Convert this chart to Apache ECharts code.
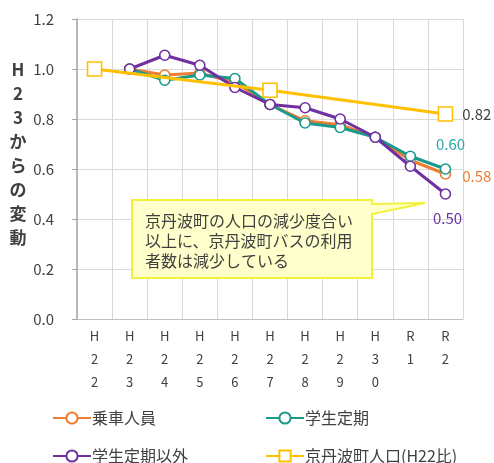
<!DOCTYPE html>
<html><head><meta charset="utf-8">
<script src="https://cdn.jsdelivr.net/npm/echarts@6/dist/echarts.min.js"></script>
<style>html,body{margin:0;padding:0;background:#fff}#c{width:494px;height:463px}</style>
</head><body><div id="c"></div>
<script>
const categories = ['H22','H23','H24','H25','H26','H27','H28','H29','H30','R1','R2'];
const riders = [null, 1.00, 0.976, 0.984, 0.946, 0.858, 0.793, 0.777, 0.727, 0.635, 0.58];
const studentPass = [null, 1.00, 0.955, 0.976, 0.962, 0.858, 0.784, 0.766, 0.727, 0.651, 0.60];
const nonStudent = [null, 1.00, 1.055, 1.015, 0.926, 0.858, 0.845, 0.800, 0.727, 0.611, 0.50];
const population = [1.00, null, null, null, null, 0.915, null, null, null, null, 0.82];
const yTicks = {min: 0, max: 1.2, interval: 0.2};
const yAxisTitle = 'H23からの変動';
const calloutLines = ['京丹波町の人口の減少度合い','以上に、京丹波町バスの利用','者数は減少している'];

const FONT = '"Noto Sans CJK JP", "Noto Sans", sans-serif';
const C_OR = '#ED7D31', C_TE = '#1A9A8C', C_PU = '#7030A0', C_YE = '#FFC000';

function withEndLabel(arr, color, pos, offset) {
  return arr.map((v, i) => i === arr.length - 1 ? {
    value: v,
    label: {show: true, position: pos, offset: offset || [0,0], formatter: v.toFixed(2),
      color: color, fontSize: 15, fontFamily: FONT}
  } : v);
}
function lineSeries(name, data, color, z, symbol) {
  return {
    name, type: 'line', data, z,
    connectNulls: true,
    symbol: symbol || 'circle', symbolSize: symbol ? 14 : 10,
    showAllSymbol: true,
    lineStyle: {color, width: 3},
    itemStyle: {color: '#fff', borderColor: color, borderWidth: 1.6},
    emphasis: {disabled: true},
    animation: false
  };
}
function leg(name, left, top) {
  return {left, top, padding: 0, itemWidth: 38, itemHeight: 14, data: [name],
    textStyle: {color: '#404040', fontSize: 16, fontFamily: FONT, padding: [0,0,0,-4]}};
}
const chart = echarts.init(document.getElementById('c'));
chart.setOption({
  animation: false,
  grid: {left: 77, right: 31, top: 19, bottom: 144},
  xAxis: {
    type: 'category', data: categories, boundaryGap: true,
    axisLine: {lineStyle: {color: '#bfbfbf'}},
    axisTick: {show: false},
    splitLine: {show: true, lineStyle: {color: '#d9d9d9', width: 1}},
    axisLabel: {interval: 0, margin: 6, color: '#404040', fontSize: 13, lineHeight: 23,
      fontFamily: FONT, formatter: v => v.split('').join('\n')}
  },
  yAxis: {
    type: 'value', min: yTicks.min, max: yTicks.max, interval: yTicks.interval,
    axisLine: {show: true, lineStyle: {color: '#a6a6a6', width: 1.5}},
    axisTick: {show: true, inside: false, length: 5, lineStyle: {color: '#a6a6a6'}},
    splitLine: {show: true, lineStyle: {color: '#d9d9d9', width: 1}},
    axisLabel: {margin: 23, color: '#404040', fontSize: 15, fontFamily: FONT,
      formatter: v => v.toFixed(1)}
  },
  legend: [
    leg('乗車人員', 52, 410),
    leg('学生定期以外', 52, 448),
    leg('学生定期', 265, 410),
    leg('京丹波町人口(H22比)', 265, 448)
  ],
  series: [
    lineSeries('乗車人員', withEndLabel(riders, C_OR, 'right', [6, 2]), C_OR, 2),
    lineSeries('学生定期', withEndLabel(studentPass, '#2AA8A8', 'top', [5, -6]), C_TE, 3),
    lineSeries('学生定期以外', withEndLabel(nonStudent, C_PU, 'bottom', [2, 6]), C_PU, 4),
    lineSeries('京丹波町人口(H22比)', withEndLabel(population, '#404040', 'right', [4, 0]), C_YE, 5, 'rect')
  ],
  graphic: [
    {type: 'text', z: 10, x: 18, y: 58,
      style: {text: yAxisTitle.split('').join('\n'), fill: '#404040', fontSize: 17, fontWeight: 'bold',
        lineHeight: 24, align: 'center', fontFamily: FONT}},
    {type: 'polygon', z: 20,
      shape: {points: [[132,200],[372,200],[372,204],[425,203],[372,214],[372,278],[132,278]]},
      style: {fill: '#FFFFCC', stroke: '#F2F23A', lineWidth: 2}},
    {type: 'text', z: 21, left: 145, top: 211,
      style: {text: calloutLines.join('\n'), fill: '#404040', fontSize: 16, lineHeight: 20, fontFamily: FONT}}
  ]
});
</script></body></html>
